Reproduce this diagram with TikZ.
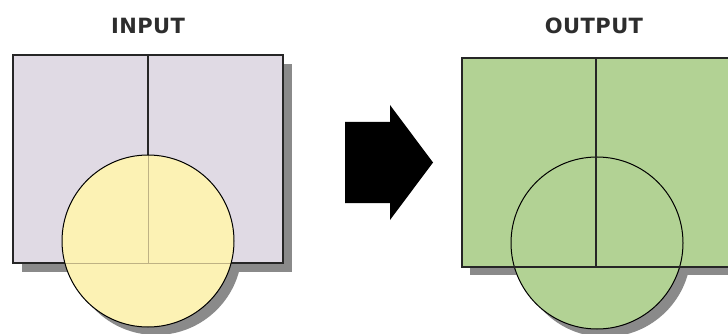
\documentclass[tikz,border=0pt]{standalone}
\usepackage{fontspec}
\usepackage{tikz}
\usepackage{color}
\newfontfamily\titlefont[LetterSpace=2]{DejaVu Sans Bold}
\definecolor{inlilac}{RGB}{224,218,228}
\definecolor{inyellow}{RGB}{252,242,180}
\definecolor{outgreen}{RGB}{178,210,148}
\definecolor{shadowgray}{RGB}{138,138,138}
\definecolor{faintline}{RGB}{190,178,132}
\definecolor{titlegray}{RGB}{45,45,45}

\begin{document}
\begin{tikzpicture}[x=1pt,y=1pt]
	\tikzstyle{every node}+=[inner sep=0pt]
	\tikzstyle{title}=[font=\titlefont\fontsize{21}{24}\selectfont, text=titlegray]
	\tikzstyle{shade}=[fill=shadowgray]
	\tikzstyle{edge}=[draw=black!85, line width=1.1pt]
	\clip (0,0) rectangle (728,-334);
	% input layers
	\node [title] (intitle) at (148,-26) {INPUT};
	\fill [shade] (22,-64) rectangle (292,-272);
	\fill [shade] (156,-249) circle (86);
	\filldraw [edge, fill=inlilac] (13,-55) rectangle (283,-263);
	\draw [edge] (148,-55) -- (148,-263);
	\fill [inyellow] (148,-241) circle (86);
	\begin{scope}
		\clip (148,-241) circle (86);
		\draw [faintline, line width=1pt] (148,-55) -- (148,-263);
		\draw [faintline, line width=1pt] (13,-263) -- (283,-263);
	\end{scope}
	\draw [black, line width=1pt] (148,-241) circle (86);
	% arrow
	\fill [black] (345,-122) -- (390,-122) -- (390,-105) -- (433,-162.5)
		-- (390,-220) -- (390,-203) -- (345,-203) -- cycle;
	% output layer
	\node [title] (outtitle) at (594,-26) {OUTPUT};
	\fill [shade] (470,-66) rectangle (740,-275);
	\fill [shade] (605,-251) circle (86);
	\filldraw [edge, fill=outgreen] (462,-58) rectangle (740,-267);
	\filldraw [black, line width=1pt, fill=outgreen] (597,-243) circle (86);
	\draw [edge] (596,-58) -- (596,-267);
	\draw [edge] (462,-267) -- (740,-267);
\end{tikzpicture}
\end{document}
